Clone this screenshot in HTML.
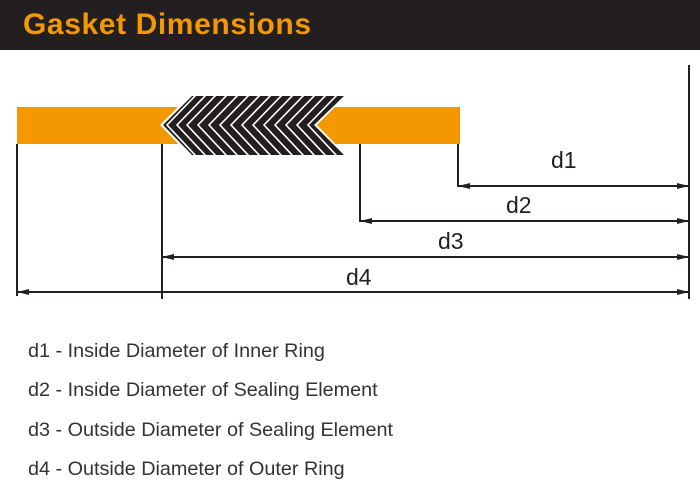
<!DOCTYPE html>
<html><head><meta charset="utf-8"><style>
html,body{margin:0;padding:0;background:#fff;}
body{width:700px;height:496px;overflow:hidden;position:relative;font-family:"Liberation Sans",sans-serif;}
.hdr{position:absolute;left:0;top:0;width:700px;height:50px;background:#231f20;}
.hdr span{position:absolute;left:23px;top:8px;font-size:30px;font-weight:bold;color:#f39800;letter-spacing:0.6px;}
.t{position:absolute;left:28px;font-size:19.8px;color:#333;}
</style></head><body>
<div class="hdr"><span>Gasket Dimensions</span></div>
<svg width="700" height="496" style="position:absolute;left:0;top:0" xmlns="http://www.w3.org/2000/svg">
<defs><marker id="a" markerWidth="12" markerHeight="8" refX="12" refY="4" orient="auto" markerUnits="userSpaceOnUse"><path d="M0,1 L12,4 L0,7 Z" fill="#231f20"/></marker>
<clipPath id="c"><polygon points="192,96 344,96 314,125 344,155 192,155 163,125"/></clipPath></defs>
<rect x="17" y="107" width="443" height="37" fill="#f39800"/>
<polygon points="190,95 347,95 317,125 347,156 190,156 160,125" fill="#fff"/>
<polygon points="192,96 344,96 314,125 344,155 192,155 163,125" fill="#231f20"/>
<g stroke="#fff" stroke-width="1.6" fill="none" clip-path="url(#c)">
<polyline points="196,95 167,125 196,156"/>
<polyline points="206,95 177,125 206,156"/>
<polyline points="216,95 187,125 216,156"/>
<polyline points="227,95 198,125 227,156"/>
<polyline points="238,95 209,125 238,156"/>
<polyline points="249,95 220,125 249,156"/>
<polyline points="260,95 231,125 260,156"/>
<polyline points="271,95 242,125 271,156"/>
<polyline points="282,95 253,125 282,156"/>
<polyline points="293,95 264,125 293,156"/>
<polyline points="304,95 275,125 304,156"/>
<polyline points="315,95 286,125 315,156"/>
<polyline points="326,95 297,125 326,156"/>
<polyline points="337,95 308,125 337,156"/>
</g>
<g stroke="#231f20" stroke-width="2" fill="none">
<line x1="17" y1="144" x2="17" y2="296"/>
<line x1="162" y1="144" x2="162" y2="299"/>
<line x1="360" y1="144" x2="360" y2="222"/>
<line x1="458" y1="144" x2="458" y2="187"/>
<line x1="689" y1="65" x2="689" y2="299"/>
<line x1="470" y1="186" x2="689" y2="186" marker-end="url(#a)"/>
<line x1="678" y1="186" x2="458" y2="186" marker-end="url(#a)"/>
<line x1="372" y1="221" x2="689" y2="221" marker-end="url(#a)"/>
<line x1="678" y1="221" x2="360" y2="221" marker-end="url(#a)"/>
<line x1="174" y1="257" x2="689" y2="257" marker-end="url(#a)"/>
<line x1="678" y1="257" x2="162" y2="257" marker-end="url(#a)"/>
<line x1="29" y1="292" x2="689" y2="292" marker-end="url(#a)"/>
<line x1="678" y1="292" x2="17" y2="292" marker-end="url(#a)"/>
</g>
<g font-family="Liberation Sans, sans-serif" font-size="23" fill="#231f20">
<text x="551" y="168">d1</text>
<text x="506" y="213">d2</text>
<text x="438" y="249">d3</text>
<text x="346" y="285">d4</text>
</g>
</svg>
<div class="t" style="top:340px">d1 - Inside Diameter of Inner Ring</div>
<div class="t" style="top:379px">d2 - Inside Diameter of Sealing Element</div>
<div class="t" style="top:419px">d3 - Outside Diameter of Sealing Element</div>
<div class="t" style="top:458px">d4 - Outside Diameter of Outer Ring</div>
</body></html>
